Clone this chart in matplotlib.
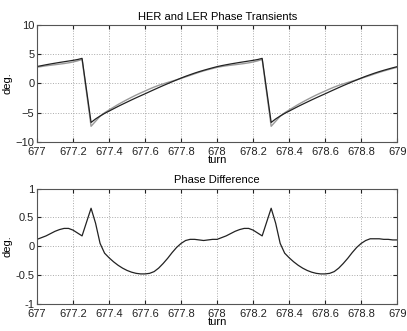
import numpy as np
import matplotlib
matplotlib.use('Agg')
import matplotlib.pyplot as plt

plt.rcParams['font.family'] = ['Liberation Sans', 'DejaVu Sans']

# turn axis, 0.025 turn spacing
turn = np.array([
    677.000, 677.025, 677.050, 677.075, 677.100, 677.125, 677.150, 677.175,
    677.200, 677.225, 677.250, 677.275, 677.300, 677.325, 677.350, 677.375,
    677.400, 677.425, 677.450, 677.475, 677.500, 677.525, 677.550, 677.575,
    677.600, 677.625, 677.650, 677.675, 677.700, 677.725, 677.750, 677.775,
    677.800, 677.825, 677.850, 677.875, 677.900, 677.925, 677.950, 677.975,
    678.000, 678.025, 678.050, 678.075, 678.100, 678.125, 678.150, 678.175,
    678.200, 678.225, 678.250, 678.275, 678.300, 678.325, 678.350, 678.375,
    678.400, 678.425, 678.450, 678.475, 678.500, 678.525, 678.550, 678.575,
    678.600, 678.625, 678.650, 678.675, 678.700, 678.725, 678.750, 678.775,
    678.800, 678.825, 678.850, 678.875, 678.900, 678.925, 678.950, 678.975,
    679.000])

# HER phase (deg)
her = np.array([
    2.90, 3.05, 3.20, 3.34, 3.47, 3.60, 3.72, 3.84,
    3.96, 4.10, 4.30, -1.20, -6.70, -6.10, -5.60, -5.15,
    -4.75, -4.35, -3.95, -3.57, -3.20, -2.83, -2.47, -2.12,
    -1.78, -1.42, -1.07, -0.72, -0.38, -0.05, 0.28, 0.60,
    0.92, 1.22, 1.50, 1.77, 2.02, 2.25, 2.47, 2.68,
    2.88, 3.05, 3.20, 3.34, 3.47, 3.60, 3.72, 3.84,
    3.96, 4.10, 4.30, -1.20, -6.70, -6.10, -5.60, -5.15,
    -4.75, -4.35, -3.95, -3.57, -3.20, -2.83, -2.47, -2.12,
    -1.78, -1.42, -1.07, -0.72, -0.38, -0.05, 0.28, 0.60,
    0.92, 1.22, 1.50, 1.77, 2.02, 2.25, 2.47, 2.68,
    2.88])

# HER - LER phase difference (deg)
phase_diff = np.array([
    0.12, 0.15, 0.18, 0.22, 0.26, 0.29, 0.31, 0.31,
    0.28, 0.23, 0.18, 0.42, 0.66, 0.40, 0.05, -0.12,
    -0.20, -0.27, -0.33, -0.38, -0.42, -0.45, -0.47, -0.48,
    -0.48, -0.47, -0.44, -0.38, -0.30, -0.21, -0.11, -0.02,
    0.05, 0.10, 0.12, 0.12, 0.11, 0.10, 0.11, 0.12,
    0.12, 0.15, 0.18, 0.22, 0.26, 0.29, 0.31, 0.31,
    0.28, 0.23, 0.18, 0.42, 0.66, 0.40, 0.05, -0.12,
    -0.20, -0.27, -0.33, -0.38, -0.42, -0.45, -0.47, -0.48,
    -0.48, -0.47, -0.44, -0.38, -0.30, -0.21, -0.11, -0.02,
    0.05, 0.10, 0.13, 0.13, 0.13, 0.12, 0.12, 0.11,
    0.11])

ler = her - phase_diff

xticks = [677, 677.2, 677.4, 677.6, 677.8, 678, 678.2, 678.4, 678.6, 678.8, 679]
xticklabels = ['677', '677.2', '677.4', '677.6', '677.8', '678',
               '678.2', '678.4', '678.6', '678.8', '679']


def style(ax):
    ax.set_xlim(677, 679)
    ax.set_xticks(xticks)
    ax.set_xticklabels(xticklabels)
    ax.grid(True, linestyle=':', color='#aaaaaa', linewidth=0.7)
    ax.tick_params(direction='in', top=True, right=True, labelsize=8,
                   length=3, pad=2, colors='#222222')
    ax.tick_params(axis='x', pad=3.5)
    for s in ax.spines.values():
        s.set_color('#555555')
        s.set_linewidth(0.8)
    ax.set_xlabel('turn', fontsize=8, labelpad=-1)
    ax.set_ylabel('deg.', fontsize=8, labelpad=2)


fig = plt.figure(figsize=(4.07, 3.31), dpi=100)

ax1 = fig.add_axes([0.091, 0.572, 0.885, 0.352])
ax1.plot(turn, ler, color='#999999', linewidth=1.0)
ax1.plot(turn, her, color='#222222', linewidth=0.9)
ax1.set_ylim(-10, 10)
ax1.set_yticks([-10, -5, 0, 5, 10])
style(ax1)
ax1.set_title('HER and LER Phase Transients', fontsize=8, pad=4)

ax2 = fig.add_axes([0.091, 0.082, 0.885, 0.348])
ax2.plot(turn, phase_diff, color='#222222', linewidth=0.9)
ax2.set_ylim(-1, 1)
ax2.set_yticks([-1, -0.5, 0, 0.5, 1])
ax2.set_yticklabels(['-1', '-0.5', '0', '0.5', '1'])
style(ax2)
ax2.set_title('Phase Difference', fontsize=8, pad=4)

fig.savefig('out.png', dpi=100)
